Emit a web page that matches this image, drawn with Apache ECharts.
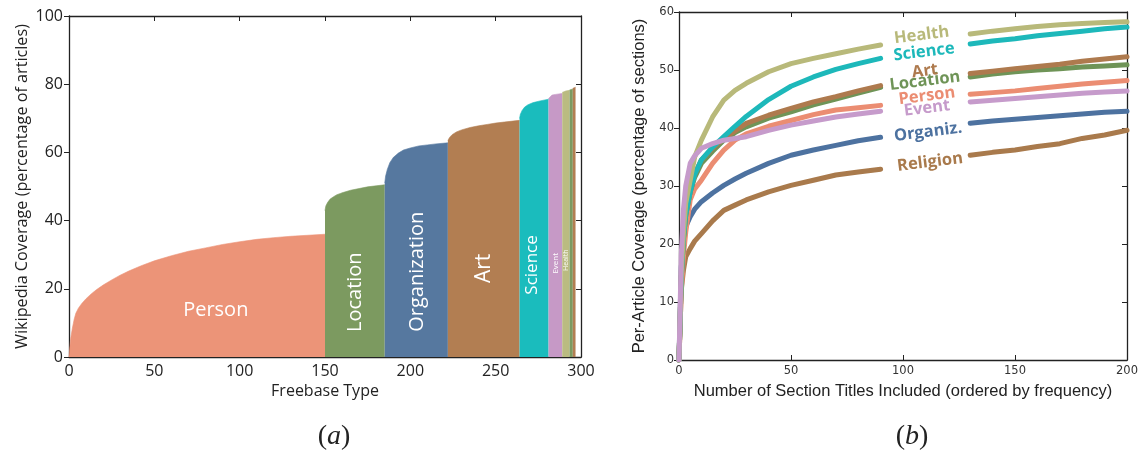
<!DOCTYPE html>
<html><head><meta charset="utf-8">
<script src="https://cdn.jsdelivr.net/npm/echarts@6/dist/echarts.min.js"></script>
<style>html,body{margin:0;padding:0;background:#fff}#c{width:1142px;height:450px}</style>
</head><body><div id="c"></div>
<script>
// ---------- Panel (a): cumulative coverage by Freebase type ----------
const typeXTicks = [0, 50, 100, 150, 200, 250, 300];
const coverageYTicks = [0, 20, 40, 60, 80, 100];
const personCurve = [[0,0],[0.5,3],[1,5.5],[2,8.5],[3,11],[4,12.8],[5.5,14.3],[7.5,15.7],[10,17.1],[13,18.5],[16,19.7],[20,21.1],[25,22.6],[30,24],[35,25.2],[42,26.7],[50,28.2],[60,29.7],[70,31],[80,32],[90,33],[100,33.8],[110,34.5],[120,35],[130,35.4],[140,35.7],[150,36]];
const locationCurve = [[150,43],[150.5,44.3],[151.5,45.3],[153,46.3],[155,47],[157,47.6],[161,48.3],[165,48.9],[170,49.4],[175,49.9],[180,50.2],[185,50.5]];
const organizationCurve = [[185,51],[185.5,53],[186.5,55],[188,57],[190,58.5],[193,59.8],[196,60.7],[200,61.3],[205,61.9],[210,62.2],[215,62.5],[222,62.8]];
const artCurve = [[222,63.5],[223,64.4],[224.5,65.2],[227,66],[230,66.6],[235,67.3],[240,67.8],[245,68.2],[250,68.6],[255,68.9],[264,69.4]];
const scienceCurve = [[264,70],[264.5,71.2],[265.5,72.3],[267,73.3],[269,74],[272,74.6],[276,75.1],[281,75.6]];
const eventCurve = [[281,75.8],[281.5,76.3],[283,76.8],[285,77],[289,77.3]];
const healthCurve = [[289,77.6],[291,78],[293.3,78.2]];
const otherGreenCurve = [[293.3,78.3],[295.2,78.6]];
const otherBrownCurve = [[295.2,78.8],[296.8,79.1]];
const typeLabelNames = ['Person','Location','Organization','Art','Science','Event','Health'];
const typeLabelAnchors = [[86,13.8],[168,19],[204,25],[243,26],[271.6,27],[284.9,27.5],[291.4,28.4]];

// ---------- Panel (b): per-article coverage vs section titles ----------
const sectionX = [0,1,2,3,5,7,10,15,20,25,30,40,50,60,70,80,90,110,130,140,150,160,170,180,190,200];
const healthCov   = [0,15,22,27,31,35,37.9,41.9,44.8,46.5,47.7,49.7,51.1,52,52.8,53.6,54.3,null,56.2,56.7,57.1,57.5,57.8,58,58.2,58.3];
const scienceCov  = [0,14,21,25,29,32,34.5,36.7,38.5,40.3,42,44.9,47.2,48.8,50.1,51.1,52,null,54.5,55,55.4,55.9,56.3,56.7,57.1,57.4];
const artCov      = [0,14,21,25,29,32,34.5,36.5,38.2,39.5,40.8,42.2,43.4,44.5,45.4,46.4,47.3,null,49.4,49.8,50.2,50.6,51,51.5,51.9,52.3];
const locationCov = [0,14,21,25,29,31.5,33.9,36,37.9,39.2,40.2,41.7,42.8,44,45,46,47,null,48.8,49.3,49.7,50,50.2,50.5,50.7,50.9];
const personCov   = [0,12,18,22,27.6,29.5,31,33.9,36.2,37.9,39,40.3,41.3,42.3,43.1,43.5,43.9,null,45.8,46.1,46.4,46.8,47.2,47.6,47.9,48.2];
const eventCov    = [0,18,26,30,33.9,35.2,36.5,37.3,37.9,38.2,38.5,39.6,40.5,41.2,41.9,42.4,42.9,null,44.5,44.8,45.1,45.4,45.7,46,46.2,46.4];
const organizCov  = [0,16,20,23,24.7,26,27.3,28.8,30.1,31.2,32.2,33.9,35.3,36.2,37,37.8,38.4,null,40.8,41.2,41.5,41.8,42.1,42.4,42.7,42.9];
const religionCov = [0,12,15.5,17.8,19.2,20.5,21.8,24,25.8,26.7,27.6,29,30.1,31,31.9,32.4,32.9,null,35.3,35.8,36.2,36.8,37.3,38.2,38.8,39.6];
const sectionXTicks = [0, 50, 100, 150, 200];
const sectionYTicks = [0, 10, 20, 30, 40, 50, 60];
const lineNames = ['Religion','Organiz.','Person','Location','Art','Science','Health','Event'];
const lineLabelAnchors = {
  'Health':[108.3,56.0], 'Science':[109.4,53.1], 'Art':[109.8,49.8], 'Location':[109.8,48.1],
  'Person':[110.7,45.5], 'Event':[110.7,43.4], 'Organiz.':[111.2,39.3], 'Religion':[112.1,34.1]
};

const C = {
  person:'#EC9478', location:'#7C9A60', organization:'#56789F', art:'#B27E52',
  science:'#1ABCBD', event:'#C699C6', health:'#BABB81'
};
const lineColors = {
  'Health':'#B8B97A','Science':'#1DB8BA','Art':'#AE7A4E','Location':'#6F9457',
  'Person':'#EB8D72','Event':'#C69BCB','Organiz.':'#4D72A0','Religion':'#A97A4C'
};
const lineData = {
  'Health':healthCov,'Science':scienceCov,'Art':artCov,'Location':locationCov,
  'Person':personCov,'Event':eventCov,'Organiz.':organizCov,'Religion':religionCov
};

const chart = echarts.init(document.getElementById('c'), null, {renderer:'canvas'});

const axisLineStyle = {lineStyle:{color:'#222', width:1.3}};
function mainX(grid, ticks, name, gap, nameFont, labelFont) {
  return {
    type:'value', gridIndex:grid, min:ticks[0], max:ticks[ticks.length-1], interval:ticks[1]-ticks[0],
    position:'bottom', name:name, nameLocation:'middle', nameGap:gap, nameTextStyle:nameFont,
    axisLine:Object.assign({show:true, onZero:false}, axisLineStyle),
    axisTick:{show:true, inside:true, length:5, lineStyle:{color:'#222'}},
    axisLabel:labelFont, splitLine:{show:false}
  };
}
function auxX(grid, ticks, pos) {
  return {
    type:'value', gridIndex:grid, min:ticks[0], max:ticks[ticks.length-1], interval:ticks[1]-ticks[0],
    position:pos, axisLine:Object.assign({show:true, onZero:false}, axisLineStyle),
    axisTick:{show:true, inside:true, length:5, lineStyle:{color:'#222'}},
    axisLabel:{show:false}, splitLine:{show:false}
  };
}
function mainY(grid, ticks, name, gap, nameFont, labelFont) {
  return {
    type:'value', gridIndex:grid, min:ticks[0], max:ticks[ticks.length-1], interval:ticks[1]-ticks[0],
    position:'left', name:name, nameLocation:'middle', nameGap:gap, nameRotate:90, nameTextStyle:nameFont,
    axisLine:Object.assign({show:true, onZero:false}, axisLineStyle),
    axisTick:{show:true, inside:false, length:5, lineStyle:{color:'#222'}},
    axisLabel:labelFont, splitLine:{show:false}
  };
}
function auxY(grid, ticks) {
  return {
    type:'value', gridIndex:grid, min:ticks[0], max:ticks[ticks.length-1], interval:ticks[1]-ticks[0],
    position:'right', axisLine:Object.assign({show:true, onZero:false}, axisLineStyle),
    axisTick:{show:true, inside:true, length:5, lineStyle:{color:'#222'}},
    axisLabel:{show:false}, splitLine:{show:false}
  };
}

const leftLabelFont = {fontFamily:'Open Sans', fontSize:16, color:'#222', margin:6};
const rightLabelFont = {fontFamily:'DejaVu Sans', fontSize:11.5, color:'#333', margin:5};

const areaDefs = [
  [personCurve, C.person], [locationCurve, C.location], [organizationCurve, C.organization],
  [artCurve, C.art], [scienceCurve, C.science], [eventCurve, C.event], [healthCurve, C.health],
  [otherGreenCurve, C.location], [otherBrownCurve, C.art]
];
const labelSizes = [20, 20, 20, 21, 17, 8, 7];

const series = [];
areaDefs.forEach(([curve, col], i) => {
  const s = {
    type:'line', xAxisIndex:0, yAxisIndex:0, data:curve, symbol:'none', silent:true,
    lineStyle:{width:0.6, color:col}, areaStyle:{color:col, opacity:1}, z:2
  };
  if (i < typeLabelNames.length) {
    s.markPoint = {
      symbol:'circle', symbolSize:0, silent:true, animation:false,
      data:[{coord:typeLabelAnchors[i], value:typeLabelNames[i]}],
      label:{show:true, position:'inside', formatter:typeLabelNames[i], color:'#fff',
        fontFamily:'Open Sans', fontSize:labelSizes[i], rotate: i === 0 ? 0 : 90}
    };
  }
  series.push(s);
});

lineNames.forEach(name => {
  const ys = lineData[name];
  series.push({
    type:'line', name:name, xAxisIndex:2, yAxisIndex:2, symbol:'none', silent:true,
    connectNulls:false,
    data:sectionX.map((x, i) => [x, ys[i] === null ? '-' : ys[i]]),
    lineStyle:{width:5, color:lineColors[name], cap:'round', join:'round'}, z:3,
    markPoint:{
      symbol:'circle', symbolSize:0, silent:true, animation:false,
      data:[{coord:lineLabelAnchors[name], value:name}],
      label:{show:true, position:'inside', formatter:name, color:lineColors[name],
        fontFamily:'Open Sans', fontWeight:'bold', fontSize:16.5, rotate:7}
    }
  });
});

chart.setOption({
  animation:false,
  backgroundColor:'#fff',
  grid:[
    {left:69, top:16, width:512, height:341, containLabel:false},
    {left:679, top:12, width:448, height:348, containLabel:false}
  ],
  xAxis:[
    mainX(0, typeXTicks, 'Freebase Type', 25, {fontFamily:'Open Sans', fontSize:16, color:'#222'}, leftLabelFont),
    auxX(0, typeXTicks, 'top'),
    mainX(1, sectionXTicks, 'Number of Section Titles Included (ordered by frequency)', 23, {fontFamily:'Liberation Sans', fontSize:16.5, color:'#222'}, rightLabelFont),
    auxX(1, sectionXTicks, 'top')
  ],
  yAxis:[
    mainY(0, coverageYTicks, 'Wikipedia Coverage (percentage of articles)', 39, {fontFamily:'Open Sans', fontSize:16.2, color:'#222'}, leftLabelFont),
    auxY(0, coverageYTicks),
    mainY(1, sectionYTicks, 'Per-Article Coverage (percentage of sections)', 31, {fontFamily:'Liberation Sans', fontSize:16.5, color:'#222'}, rightLabelFont),
    auxY(1, sectionYTicks)
  ],
  title:[
    {text:'({i|a})', left:329, top:418, textAlign:'center',
      textStyle:{fontFamily:'Liberation Serif', fontSize:28, fontWeight:'normal', color:'#222',
        rich:{i:{fontFamily:'Liberation Serif', fontStyle:'italic', fontSize:28, color:'#222'}}}},
    {text:'({i|b})', left:907, top:418, textAlign:'center',
      textStyle:{fontFamily:'Liberation Serif', fontSize:28, fontWeight:'normal', color:'#222',
        rich:{i:{fontFamily:'Liberation Serif', fontStyle:'italic', fontSize:28, color:'#222'}}}}
  ],
  series:series
});
</script></body></html>
